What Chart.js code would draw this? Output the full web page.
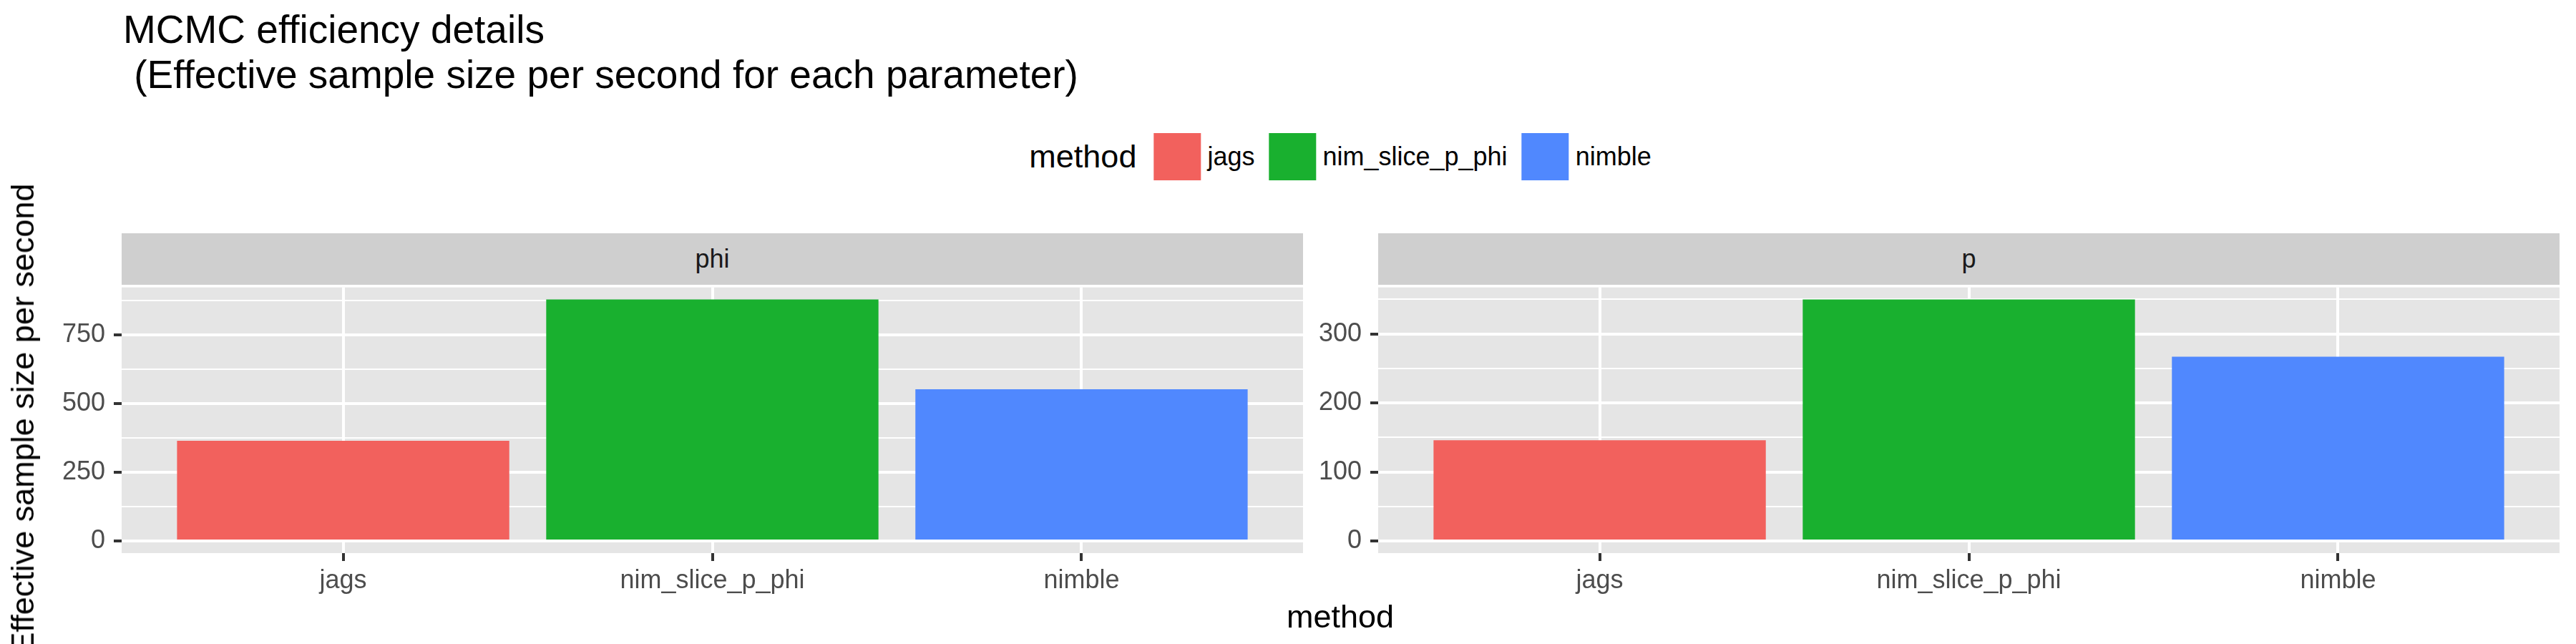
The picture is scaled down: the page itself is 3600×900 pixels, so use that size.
<!DOCTYPE html>
<html>
<head>
  <meta charset="utf-8">
  <title>MCMC efficiency details</title>
  <script src="https://cdn.jsdelivr.net/npm/chart.js"></script>
  <style>
    body {
      margin: 0;
      background: #fff;
      font-family: "Liberation Sans", Arial, Helvetica, sans-serif;
    }
    #plot {
      position: relative;
      width: 3600px;
      height: 900px;
      overflow: hidden;
      background: #fff;
    }
    .abs { position: absolute; }
    #title {
      left: 172px;
      top: 10px;
      font-size: 55px;
      line-height: 63px;
      color: #000;
      white-space: pre;
    }
    .strip {
      top: 326px;
      height: 72px;
      width: 1651px;
      background: #cfcfcf;
      color: #1a1a1a;
      font-size: 36px;
      line-height: 72px;
      text-align: center;
    }
    #legend {
      top: 186px;
      left: 1883px;
      transform: translateX(-50%);
      display: flex;
      align-items: center;
      height: 66px;
      white-space: nowrap;
    }
    #legend .lt { font-size: 45px; margin-right: 24px; }
    #legend .key { width: 66px; height: 66px; }
    #legend .lab { font-size: 36px; margin-left: 9px; margin-right: 20px; }
    #xtitle {
      top: 836px;
      left: 1873px;
      transform: translateX(-50%);
      font-size: 45px;
    }
    #ytitle {
      left: 32px;
      top: 585px;
      font-size: 45px;
      white-space: nowrap;
      transform: translate(-50%, -50%) rotate(-90deg);
    }
  </style>
</head>
<body>
<div id="plot">
  <div id="title" class="abs">MCMC efficiency details
 (Effective sample size per second for each parameter)</div>
  <div id="legend" class="abs"></div>
  <div class="abs strip" style="left:170px">phi</div>
  <div class="abs strip" style="left:1926px">p</div>
  <canvas id="phiChart" class="abs" width="1830" height="532" style="left:0;top:368px;width:1830px;height:532px"></canvas>
  <canvas id="pChart" class="abs" width="1770" height="532" style="left:1830px;top:368px;width:1770px;height:532px"></canvas>
  <div id="xtitle" class="abs">method</div>
  <div id="ytitle" class="abs">Effective sample size per second</div>
</div>
<script>
  // Data
  const categories = ['jags', 'nim_slice_p_phi', 'nimble'];
  const phiValues = [365, 880, 553];
  const pValues = [146, 350, 267];
  const phiTicks = [0, 250, 500, 750];
  const phiMinorTicks = [125, 375, 625, 875];
  const pTicks = [0, 100, 200, 300];
  const pMinorTicks = [50, 150, 250, 350];
  const barColors = ['#f2615d', '#19b02f', '#5088fe'];

  const FONT = '"Liberation Sans", Arial, Helvetica, sans-serif';

  // Legend built from the categories
  const legend = document.getElementById('legend');
  legend.innerHTML = '<span class="lt">method</span>' + categories.map((c, i) =>
    `<span class="key" style="background:${barColors[i]}"></span><span class="lab">${c}</span>`
  ).join('');

  // grey panel background like ggplot
  const panelBg = {
    id: 'panelBg',
    beforeDraw(chart) {
      const a = chart.chartArea;
      const ctx = chart.ctx;
      ctx.save();
      ctx.fillStyle = '#e5e5e5';
      ctx.fillRect(a.left, a.top, a.right - a.left, a.bottom - a.top);
      ctx.restore();
    }
  };

  function makePanel(id, values, ticks, minorTicks, axisWidth, padRight) {
    const top = Math.max(...values);
    const allTicks = [...ticks, ...minorTicks].sort((a, b) => a - b);
    const isMajor = v => ticks.includes(v);
    return new Chart(document.getElementById(id), {
      type: 'bar',
      data: {
        datasets: [{
          data: values.map((v, i) => ({ x: i + 1, y: v })),
          backgroundColor: barColors,
          borderWidth: 0,
          barPercentage: 0.9,
          categoryPercentage: 1.0
        }]
      },
      options: {
        responsive: false,
        animation: false,
        layout: { padding: { top: 30, right: padRight, left: 0, bottom: 0 } },
        plugins: {
          legend: { display: false },
          tooltip: { enabled: false }
        },
        scales: {
          x: {
            type: 'linear',
            offset: false,
            min: 0.4,
            max: categories.length + 0.6,
            border: { display: false },
            grid: { offset: false, color: '#ffffff', lineWidth: 4, tickColor: '#333333', tickWidth: 4, tickLength: 11 },
            ticks: {
              callback: v => categories[v - 1],
              font: { family: FONT, size: 36 },
              color: '#4d4d4d',
              padding: 6,
              autoSkip: false,
              maxRotation: 0
            },
            afterBuildTicks: s => { s.ticks = categories.map((c, i) => ({ value: i + 1 })); },
            afterFit: s => { s.height = 127; }
          },
          y: {
            min: -0.05 * top,
            max: 1.05 * top,
            border: { display: false },
            grid: {
              color: '#ffffff',
              lineWidth: c => isMajor(c.tick.value) ? 4 : 2,
              tickColor: c => isMajor(c.tick.value) ? '#333333' : 'rgba(0,0,0,0)',
              tickWidth: 4,
              tickLength: 11
            },
            ticks: {
              callback: v => isMajor(v) ? String(v) : '',
              font: { family: FONT, size: 36 },
              color: '#4d4d4d',
              padding: 12
            },
            afterBuildTicks: s => { s.ticks = allTicks.map(v => ({ value: v })); },
            afterFit: s => { s.width = axisWidth; }
          }
        }
      },
      plugins: [panelBg]
    });
  }

  makePanel('phiChart', phiValues, phiTicks, phiMinorTicks, 170, 9);
  makePanel('pChart', pValues, pTicks, pMinorTicks, 96, 23);
</script>
</body>
</html>
